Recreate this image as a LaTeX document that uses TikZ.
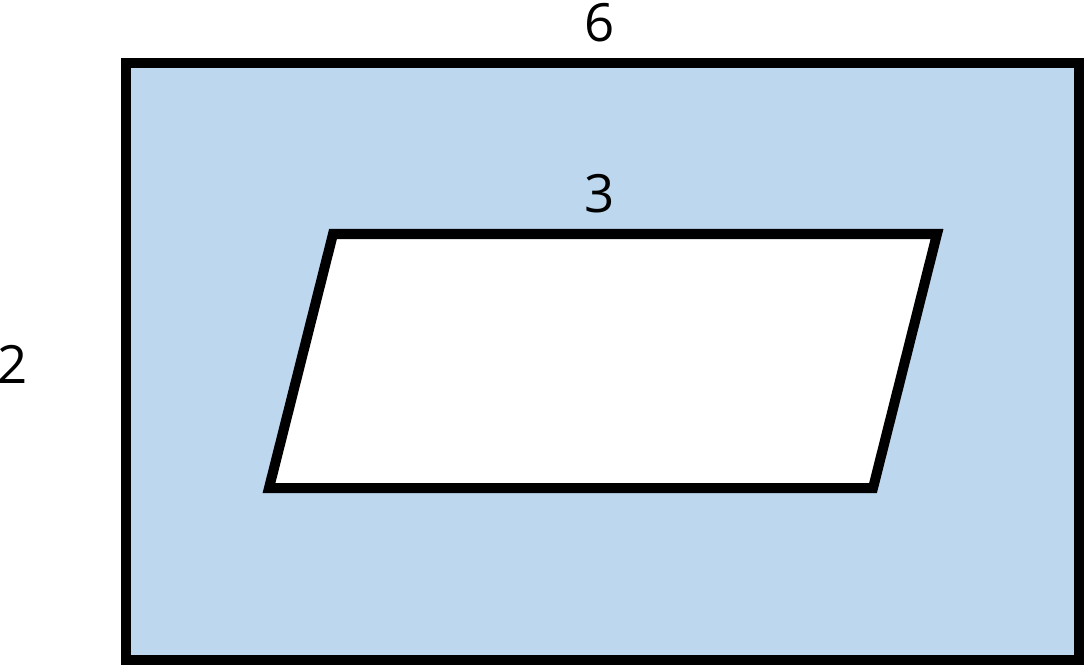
\documentclass[tikz,border=0pt]{standalone}
\usepackage{fontspec}
\setmainfont{Open Sans}
\usepackage{xcolor}
\usetikzlibrary{positioning}
\definecolor{paleblue}{RGB}{189,215,238}

\begin{document}
\begin{tikzpicture}[x=0.01cm,y=-0.01cm]
    \useasboundingbox (0,0) rectangle (1086,667);
    % Outer rectangle
    \draw[line width=0.1cm, fill=paleblue] (126,63) rectangle (1079,660);
    % Parallelogram hole
    \draw[line width=0.1cm, fill=white, line join=miter]
        (333,234) -- (937,234) -- (873,488) -- (269,488) -- cycle;
    % Labels
    \node[font=\fontsize{15}{18}\selectfont] (lblsix) at (600,23) {6};
    \node[font=\fontsize{15}{18}\selectfont] (lblthree) at (600,194) {3};
    \node[font=\fontsize{15}{18}\selectfont] (lbltwo) at (13,364) {2};
\end{tikzpicture}
\end{document}
